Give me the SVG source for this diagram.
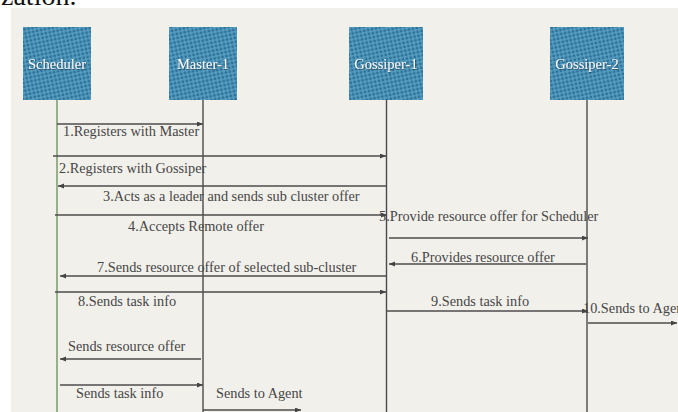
<svg xmlns="http://www.w3.org/2000/svg" width="678" height="412" viewBox="0 0 678 412">
  <defs>
    <style>
      .heading { font-family: "Liberation Serif", serif; font-size: 28px; fill: #111; }
      .actor rect { fill: url(#weave); }
      .actor text { font-family: "Liberation Serif", "DejaVu Serif", serif; font-size: 14.5px; fill: #f6f8fa; text-anchor: middle; filter: url(#glow); }
      .life { stroke: #4a4a4a; stroke-width: 1.4; fill: none; }
      .life.green { stroke: #6f9460; }
      .msg line { stroke: #4d4d4d; stroke-width: 1.4; marker-end: url(#head); }
      .msg text { font-family: "Liberation Serif", "DejaVu Serif", serif; font-size: 14.3px; fill: #464646; }
    </style>
    <pattern id="weave" width="4" height="4" patternUnits="userSpaceOnUse" patternTransform="rotate(-12)">
      <rect width="4" height="4" fill="#5ea7c7"/>
      <rect x="0.5" y="0.5" width="2.8" height="2.8" fill="#2d7098"/>
    </pattern>
    <filter id="glow" x="-20%" y="-40%" width="140%" height="180%">
      <feDropShadow dx="0.6" dy="0.8" stdDeviation="0.7" flood-color="#1b3d52" flood-opacity="0.9"/>
    </filter>
    <marker id="head" markerUnits="userSpaceOnUse" markerWidth="7" markerHeight="6" refX="6" refY="2.5" orient="auto">
      <path d="M0,0 L6,2.5 L0,5 z" fill="#444"/>
    </marker>
  </defs>

  <!-- page and paper sheet -->
  <rect width="678" height="412" fill="#ffffff"/>
  <rect x="11" y="8" width="667" height="404" fill="#f2f0eb"/>
  <text class="heading" x="1" y="5">zation.</text>

  <!-- participants -->
  <g id="scheduler" class="actor">
    <rect x="23" y="27" width="68" height="73"/>
    <text x="57" y="69">Scheduler</text>
  </g>
  <g id="master-1" class="actor">
    <rect x="169" y="27" width="68" height="73"/>
    <text x="203" y="69">Master-1</text>
  </g>
  <g id="gossiper-1" class="actor">
    <rect x="349" y="27" width="74" height="73"/>
    <text x="386" y="69">Gossiper-1</text>
  </g>
  <g id="gossiper-2" class="actor">
    <rect x="550" y="27" width="74" height="73"/>
    <text x="587" y="69">Gossiper-2</text>
  </g>

  <!-- lifelines -->
  <g id="lifelines">
    <line class="life green" x1="57" y1="100" x2="57" y2="412"/>
    <line class="life" x1="203" y1="100" x2="203" y2="412"/>
    <line class="life" x1="386.5" y1="100" x2="386.5" y2="412"/>
    <line class="life" x1="587" y1="100" x2="587" y2="412"/>
  </g>

  <!-- messages -->
  <g id="connectors" class="msg">
    <line x1="57" y1="124" x2="203" y2="124"/>
    <text x="63" y="136">1.Registers with Master</text>

    <line x1="53" y1="156" x2="386" y2="156"/>
    <text x="59" y="173">2.Registers with Gossiper</text>

    <line x1="386" y1="186" x2="58" y2="186"/>
    <text x="103" y="201">3.Acts as a leader and sends sub cluster offer</text>

    <line x1="55" y1="215" x2="387" y2="215"/>
    <text x="128" y="231">4.Accepts Remote offer</text>

    <line x1="389" y1="238" x2="588" y2="238"/>
    <text x="379" y="221">5.Provide resource offer for Scheduler</text>

    <line x1="586" y1="264" x2="389" y2="264"/>
    <text x="411" y="262">6.Provides resource offer</text>

    <line x1="386" y1="276" x2="60" y2="276"/>
    <text x="97" y="272">7.Sends resource offer of selected sub-cluster</text>

    <line x1="55" y1="292" x2="386" y2="292"/>
    <text x="78" y="306">8.Sends task info</text>

    <line x1="386" y1="311" x2="588" y2="311"/>
    <text x="431" y="306">9.Sends task info</text>

    <line x1="588" y1="323" x2="677" y2="323"/>
    <text x="583" y="313">10.Sends to Agent</text>

    <line x1="201" y1="359" x2="60" y2="359"/>
    <text x="68" y="351">Sends resource offer</text>

    <line x1="60" y1="385" x2="203" y2="385"/>
    <text x="76" y="398">Sends task info</text>

    <line x1="203" y1="410" x2="301" y2="410"/>
    <text x="216" y="398">Sends to Agent</text>
  </g>
</svg>
